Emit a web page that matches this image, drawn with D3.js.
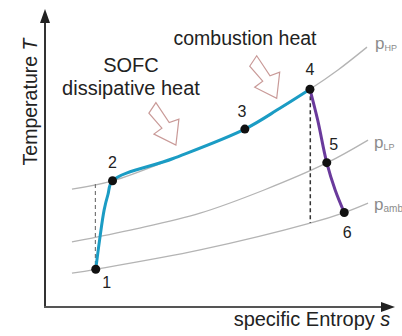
<!DOCTYPE html>
<html>
<head>
<meta charset="utf-8">
<script src="https://cdn.jsdelivr.net/npm/d3@7"></script>
<style>
body { margin: 0; background: #fff; }
svg { display: block; font-family: "Liberation Sans", Arial, sans-serif; }
</style>
</head>
<body>
<svg width="402" height="336"></svg>
<script>
// state points of the cycle (s, T in arbitrary units)
const states = ["1", "2", "3", "4", "5", "6"];
const stateS = [14.5, 19.3, 57.1, 75.7, 80.5, 85.5];
const stateT = [12.7, 42.5, 59.9, 73.3, 48.6, 31.8];

// compression 1-2 and heat addition 2-3-4
const heatS = [14.5, 15.6, 16.9, 18.0, 19.3, 36.6, 57.1, 67.1, 75.7];
const heatT = [12.7, 22.6, 32.7, 37.9, 42.5, 50.0, 59.9, 66.9, 73.3];

// expansion 4-5-6
const expS = [75.7, 77.9, 80.5, 82.9, 85.5];
const expT = [73.3, 63.0, 48.6, 39.4, 31.8];

// isobars
const isobarNames = ["HP", "LP", "amb"];
const isobarS = [
	[7.7, 19.3, 36.6, 57.1, 75.7, 83.7, 92.0],
	[7.7, 26.0, 44.3, 62.6, 80.5, 92.3],
	[7.7, 14.5, 44.3, 76.0, 85.5, 92.3]
];
const isobarT = [
	[39.7, 42.5, 50.0, 59.9, 73.3, 79.8, 87.5],
	[21.9, 26.3, 31.6, 39.4, 48.5, 56.2],
	[11.4, 12.7, 19.2, 28.3, 31.8, 35.0]
];

// isentropic reference lines (dashed)
const dashS = [14.4, 75.8];
const dashTop = [41.4, 73.3];
const dashBottom = [12.7, 28.3];

// heat arrows: tip positions
const arrowNames = ["SOFC dissipative heat", "combustion heat"];
const arrowS = [37.4, 66.2];
const arrowT = [54.5, 70.3];

let svg = d3.select('svg');

const x = d3.scaleLinear().domain([0, 100]).range([45, 395]);
const y = d3.scaleLinear().domain([0, 100]).range([307, 10]);

const line = d3.line()
	.x(function(d){ return x(d[0]); })
	.y(function(d){ return y(d[1]); })
	.curve(d3.curveCatmullRom.alpha(0.5));

// isobars
isobarNames.forEach(function(name, i){
	let pts = isobarS[i].map(function(s, j){ return [s, isobarT[i][j]]; });
	svg.append('path')
		.attr('d', line(pts))
		.attr('fill', 'none')
		.attr('stroke', '#b4b4b4')
		.attr('stroke-width', 1.3);
});

// isobar labels
const labelOffset = { "HP": [8, 2], "LP": [6, 8], "amb": [6, 7] };
isobarNames.forEach(function(name, i){
	let n = isobarS[i].length - 1;
	let t = svg.append('text')
		.attr('x', x(isobarS[i][n]) + labelOffset[name][0])
		.attr('y', y(isobarT[i][n]) + labelOffset[name][1])
		.attr('fill', '#8c8c8c')
		.attr('font-size', 17);
	t.append('tspan').text('p');
	t.append('tspan')
		.attr('font-size', name === "amb" ? 10 : 9)
		.attr('dy', 2)
		.text(name);
});

// dashed lines
dashS.forEach(function(s, i){
	svg.append('line')
		.attr('x1', x(s)).attr('x2', x(s))
		.attr('y1', y(dashTop[i])).attr('y2', y(dashBottom[i]))
		.attr('stroke', i === 0 ? '#777' : '#333')
		.attr('stroke-width', i === 0 ? 1.2 : 1.5)
		.attr('stroke-dasharray', '4,3');
});

// process lines
svg.append('path')
	.attr('d', line(heatS.map(function(s, j){ return [s, heatT[j]]; })))
	.attr('fill', 'none')
	.attr('stroke', '#1b9cc4')
	.attr('stroke-width', 3);

svg.append('path')
	.attr('d', line(expS.map(function(s, j){ return [s, expT[j]]; })))
	.attr('fill', 'none')
	.attr('stroke', '#6a3a9c')
	.attr('stroke-width', 3);

// state points
svg.selectAll('circle.state')
	.data(states)
	.enter()
	.append('circle')
	.attr('cx', function(d, i){ return x(stateS[i]); })
	.attr('cy', function(d, i){ return y(stateT[i]); })
	.attr('r', 4.5)
	.attr('fill', '#111');

const numOffset = [[11, 19], [0, -13], [-3, -12], [0, -14], [7, -13], [3, 25]];
svg.selectAll('text.state')
	.data(states)
	.enter()
	.append('text')
	.attr('x', function(d, i){ return x(stateS[i]) + numOffset[i][0]; })
	.attr('y', function(d, i){ return y(stateT[i]) + numOffset[i][1]; })
	.attr('text-anchor', 'middle')
	.attr('font-size', 16)
	.attr('fill', '#222')
	.text(function(d){ return d; });

// hollow heat arrows (shape relative to tip)
const arrowShape = [[-27, -32], [-20, -42.5], [-6.7, -22.5], [3, -26], [0, 0], [-22, -11], [-14, -17]];
arrowS.forEach(function(s, i){
	svg.append('polygon')
		.attr('points', arrowShape.map(function(p){
			return (x(s) + p[0]) + ',' + (y(arrowT[i]) + p[1]);
		}).join(' '))
		.attr('fill', '#fff')
		.attr('stroke', '#c99a98')
		.attr('stroke-width', 1.2)
		.attr('stroke-linejoin', 'miter');
});

// annotations
svg.append('text')
	.attr('x', 245).attr('y', 45)
	.attr('text-anchor', 'middle')
	.attr('font-size', 19.5)
	.attr('fill', '#222')
	.text(arrowNames[1]);

let sofc = svg.append('text')
	.attr('text-anchor', 'middle')
	.attr('font-size', 20)
	.attr('fill', '#222');
sofc.append('tspan').attr('x', 131).attr('y', 72).text('SOFC');
sofc.append('tspan').attr('x', 131).attr('y', 95).text('dissipative heat');

// axes
svg.append('line')
	.attr('x1', x(0)).attr('y1', y(0))
	.attr('x2', x(0)).attr('y2', 20)
	.attr('stroke', '#333').attr('stroke-width', 2);
svg.append('polygon')
	.attr('points', [[x(0) - 5, 23], [x(0), 9], [x(0) + 5, 23]].join(' '))
	.attr('fill', '#222');

svg.append('line')
	.attr('x1', x(0) - 1).attr('y1', y(0))
	.attr('x2', 384).attr('y2', y(0))
	.attr('stroke', '#555').attr('stroke-width', 2);
svg.append('polygon')
	.attr('points', [[381, y(0) - 5], [395, y(0)], [381, y(0) + 5]].join(' '))
	.attr('fill', '#222');

// axis titles
let ytitle = svg.append('text')
	.attr('transform', 'translate(37,102) rotate(-90)')
	.attr('text-anchor', 'middle')
	.attr('font-size', 19.5)
	.attr('fill', '#222');
ytitle.append('tspan').text('Temperature ');
ytitle.append('tspan').attr('font-style', 'italic').text('T');

let xtitle = svg.append('text')
	.attr('x', 312).attr('y', 326)
	.attr('text-anchor', 'middle')
	.attr('font-size', 20)
	.attr('fill', '#222');
xtitle.append('tspan').text('specific Entropy ');
xtitle.append('tspan').attr('font-style', 'italic').text('s');
</script>
</body>
</html>
